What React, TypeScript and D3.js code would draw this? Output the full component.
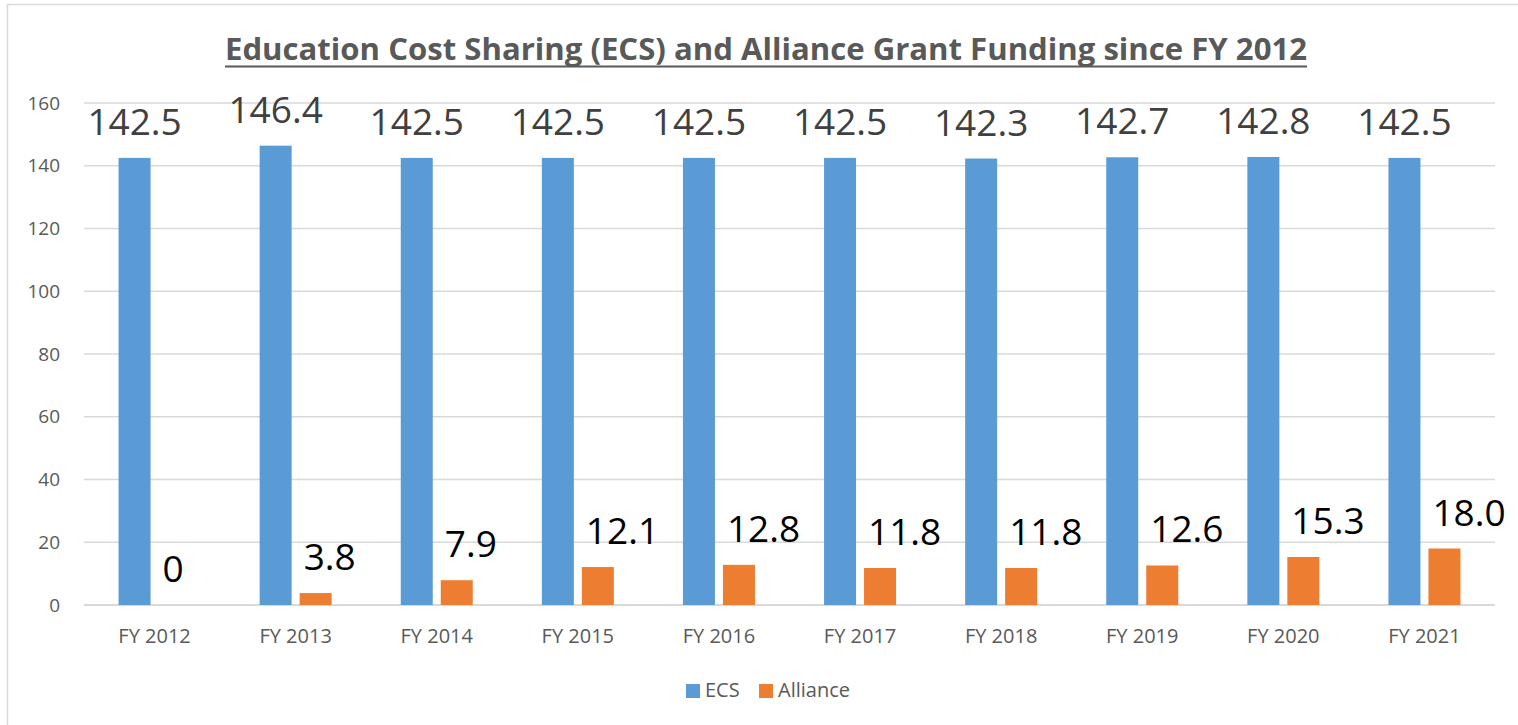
import React from "react";
import * as d3 from "d3";

const categories = ["FY 2012", "FY 2013", "FY 2014", "FY 2015", "FY 2016", "FY 2017", "FY 2018", "FY 2019", "FY 2020", "FY 2021"];
const ecsValues = [142.5, 146.4, 142.5, 142.5, 142.5, 142.5, 142.3, 142.7, 142.8, 142.5];
const allianceValues = [0, 3.8, 7.9, 12.1, 12.8, 11.8, 11.8, 12.6, 15.3, 18.0];
const allianceLabels = ["0", "3.8", "7.9", "12.1", "12.8", "11.8", "11.8", "12.6", "15.3", "18.0"];
const yTicks = [0, 20, 40, 60, 80, 100, 120, 140, 160];
const seriesNames = ["ECS", "Alliance"];
const title = "Education Cost Sharing (ECS) and Alliance Grant Funding since FY 2012";

const W = 1518;
const H = 725;
const BLUE = "#5B9BD5";
const ORANGE = "#ED7D31";
const FONT = "'Open Sans', 'Liberation Sans', sans-serif";

export default function App() {
  const y = d3.scaleLinear().domain([0, 160]).range([605, 103]);
  const x = d3.scaleBand<string>().domain(categories).range([84, 1495]).paddingInner(0).paddingOuter(0);
  const x1 = d3.scaleBand<string>().domain(seriesNames).range([0, 72]).paddingInner(0.2);
  const bw = x1.bandwidth();

  return (
    <div style={{ position: "fixed", left: 0, top: 0 }}>
      <svg width={W} height={H} style={{ display: "block", background: "#fff" }} fontFamily={FONT}>
        <rect x={0} y={0} width={W} height={H} fill="#fff" />
        <rect x={7.5} y={4.5} width={W + 10} height={H + 10} fill="none" stroke="#D9D9D9" strokeWidth={1.5} />
        {/* title */}
        <text x={766} y={60} textAnchor="middle" fontSize={30} fontWeight={700} fill="#595959"
          textLength={1082} lengthAdjust="spacingAndGlyphs">{title}</text>
        <line x1={225} x2={1307} y1={66.5} y2={66.5} stroke="#595959" strokeWidth={2} />
        {/* gridlines */}
        {yTicks.map((t) => (
          <g key={t}>
            <line x1={84} x2={1495} y1={y(t)} y2={y(t)} stroke="#D9D9D9" strokeWidth={t === 0 ? 2 : 1.5} />
            <text x={60} y={y(t)} dy="0.35em" textAnchor="end" fontSize={19} fill="#595959">{t}</text>
          </g>
        ))}
        {/* bars */}
        {categories.map((c, i) => {
          const gx = x(c)! + x.bandwidth() / 2 - 36;
          const ex = gx + x1("ECS")!;
          const ax = gx + x1("Alliance")!;
          return (
            <g key={c}>
              <rect x={ex} y={y(ecsValues[i])} width={bw} height={y(0) - y(ecsValues[i])} fill={BLUE} />
              {allianceValues[i] > 0 && (
                <rect x={ax} y={y(allianceValues[i])} width={bw} height={y(0) - y(allianceValues[i])} fill={ORANGE} />
              )}
              <text x={ex + bw / 2} y={y(ecsValues[i]) - 23} textAnchor="middle" fontSize={37} fill="#404040">
                {ecsValues[i].toFixed(1)}
              </text>
              <text x={ax + 4} y={y(allianceValues[i]) - 23} textAnchor="start" fontSize={37} fill="#000">
                {allianceLabels[i]}
              </text>
              <text x={x(c)! + x.bandwidth() / 2} y={643} textAnchor="middle" fontSize={20} fill="#595959">{c}</text>
            </g>
          );
        })}
        {/* legend */}
        <rect x={686} y={684} width={14} height={14} fill={BLUE} />
        <text x={705} y={697} fontSize={20} fill="#595959">ECS</text>
        <rect x={759} y={684} width={14} height={14} fill={ORANGE} />
        <text x={778} y={697} fontSize={20} fill="#595959">Alliance</text>
      </svg>
    </div>
  );
}
